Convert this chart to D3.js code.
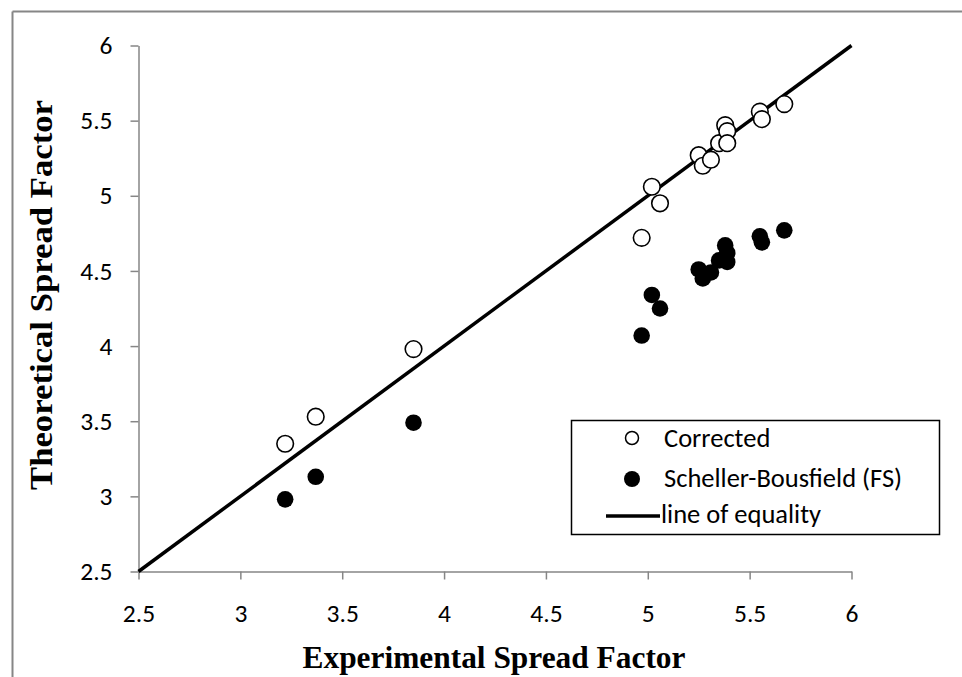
<!DOCTYPE html>
<html>
<head>
<meta charset="utf-8">
<script src="https://cdn.jsdelivr.net/npm/d3@7"></script>
<style>
  html, body { margin: 0; padding: 0; background: #fff; }
  svg { display: block; }
</style>
</head>
<body>
<svg id="chart" width="962" height="677"></svg>
<script>
// Experimental spread factor (shared by both models)
const experimental = [3.22, 3.37, 3.85, 4.97, 5.02, 5.06, 5.25, 5.27, 5.31, 5.35, 5.38, 5.39, 5.39, 5.55, 5.56, 5.67];
// Theoretical spread factor, corrected model
const corrected = [3.35, 3.53, 3.98, 4.72, 5.06, 4.95, 5.27, 5.20, 5.24, 5.35, 5.47, 5.43, 5.35, 5.56, 5.51, 5.61];
// Theoretical spread factor, Scheller-Bousfield (FS)
const schellerFS = [2.98, 3.13, 3.49, 4.07, 4.34, 4.25, 4.51, 4.45, 4.49, 4.57, 4.67, 4.62, 4.56, 4.73, 4.69, 4.77];
const tickValues = [2.5, 3, 3.5, 4, 4.5, 5, 5.5, 6];
const equalityLine = [2.5, 6];

const svg = d3.select("#chart");
const axisColor = "#868686";
const sansFont = "Carlito, Lato, 'Open Sans', sans-serif";
const serifFont = "'Liberation Serif', 'Times New Roman', serif";

// outer frame (top and left edges visible)
svg.append("line").attr("x1", 12.5).attr("x2", 962).attr("y1", 11.5).attr("y2", 11.5)
  .attr("stroke", axisColor).attr("stroke-width", 2);
svg.append("line").attr("x1", 12.5).attr("x2", 12.5).attr("y1", 11.5).attr("y2", 677)
  .attr("stroke", axisColor).attr("stroke-width", 2);

const x = d3.scaleLinear().domain([2.5, 6]).range([138.5, 851.5]);
const y = d3.scaleLinear().domain([2.5, 6]).range([571.5, 45.5]);
const fmt = d3.format("");

const xAxis = svg.append("g").attr("transform", "translate(0,571.5)")
  .call(d3.axisBottom(x).tickValues(tickValues).tickFormat(fmt).tickSizeInner(8).tickSizeOuter(0).tickPadding(24));
const yAxis = svg.append("g").attr("transform", "translate(138.5,0)")
  .call(d3.axisLeft(y).tickValues(tickValues).tickFormat(fmt).tickSizeInner(8).tickSizeOuter(0).tickPadding(18));
[xAxis, yAxis].forEach(a => {
  a.attr("font-family", sansFont).attr("font-size", 25.5);
  a.select(".domain").attr("stroke", axisColor).attr("stroke-width", 1.5);
  a.selectAll(".tick line").attr("stroke", axisColor).attr("stroke-width", 1.5);
  a.selectAll(".tick text").attr("fill", "#000");
});

// line of equality
svg.append("line")
  .attr("x1", x(equalityLine[0])).attr("y1", y(equalityLine[0]))
  .attr("x2", x(equalityLine[1])).attr("y2", y(equalityLine[1]))
  .attr("stroke", "#000").attr("stroke-width", 3.5);

const r = 8.3;
svg.append("g").selectAll("circle").data(experimental.map((e, i) => [e, corrected[i]]))
  .join("circle")
  .attr("cx", d => x(d[0])).attr("cy", d => y(d[1])).attr("r", r)
  .attr("fill", "#fff").attr("stroke", "#000").attr("stroke-width", 1.6);

svg.append("g").selectAll("circle").data(experimental.map((e, i) => [e, schellerFS[i]]))
  .join("circle")
  .attr("cx", d => x(d[0])).attr("cy", d => y(d[1])).attr("r", r)
  .attr("fill", "#000");

// axis titles
svg.append("text").attr("x", 494).attr("y", 668).attr("text-anchor", "middle")
  .attr("font-family", serifFont).attr("font-weight", "bold")
  .attr("font-size", 31).attr("textLength", 383).attr("lengthAdjust", "spacingAndGlyphs")
  .text("Experimental Spread Factor");
svg.append("text").attr("transform", "translate(52,295) rotate(-90)").attr("text-anchor", "middle")
  .attr("font-family", serifFont).attr("font-weight", "bold")
  .attr("font-size", 31).attr("textLength", 390).attr("lengthAdjust", "spacingAndGlyphs")
  .text("Theoretical Spread Factor");

// legend
const lg = svg.append("g");
lg.append("rect").attr("x", 571.5).attr("y", 420.5).attr("width", 368).attr("height", 114)
  .attr("fill", "#fff").attr("stroke", "#000").attr("stroke-width", 1.5);
lg.append("circle").attr("cx", 632).attr("cy", 438).attr("r", 6.5)
  .attr("fill", "#fff").attr("stroke", "#000").attr("stroke-width", 1.5);
lg.append("circle").attr("cx", 632).attr("cy", 479).attr("r", 8).attr("fill", "#000");
lg.append("line").attr("x1", 606).attr("x2", 660).attr("y1", 516).attr("y2", 516)
  .attr("stroke", "#000").attr("stroke-width", 3.5);
[["Corrected", 447, 664], ["Scheller-Bousfield (FS)", 487, 664], ["line of equality", 523, 661]].forEach(([t, yy, xx]) => {
  lg.append("text").attr("x", xx).attr("y", yy)
    .attr("font-family", sansFont).attr("font-size", 26.5).text(t);
});
</script>
</body>
</html>
